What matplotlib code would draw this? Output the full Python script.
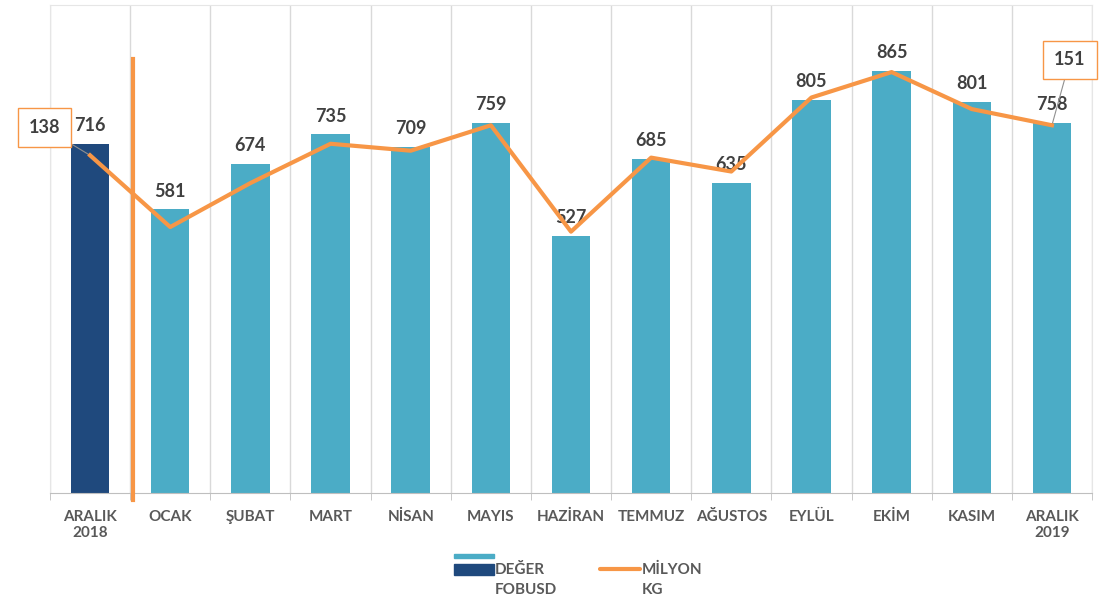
import numpy as np
import matplotlib
matplotlib.use('Agg')
import matplotlib.pyplot as plt
from matplotlib.patches import Rectangle
from matplotlib.lines import Line2D

plt.rcParams['font.family'] = ['Lato', 'DejaVu Sans']

months = ['ARALIK\n2018', 'OCAK', 'ŞUBAT', 'MART', 'NİSAN', 'MAYIS', 'HAZİRAN',
          'TEMMUZ', 'AĞUSTOS', 'EYLÜL', 'EKİM', 'KASIM', 'ARALIK\n2019']
deger = [716, 581, 674, 735, 709, 759, 527, 685, 635, 805, 865, 801, 758]
milyon_kg = [138, 107, 126, 143, 140, 151, 105, 137, 131, 163, 174, 158, 151]

light_blue = '#4BACC6'
navy = '#1F497D'
orange = '#F79646'
label_grey = '#404040'
tick_grey = '#595959'

# legend handles sit on the first text line, not the middle of the two lines
LIFT = 8


class StackedBarHandler:
    # two stacked rectangles, light on top, dark below
    def legend_artist(self, legend, orig_handle, fontsize, handlebox):
        x0, y0 = handlebox.xdescent, handlebox.ydescent + LIFT
        w, h = handlebox.width, handlebox.height
        top = Rectangle((x0, y0 + 1.5 * h), w, 0.45 * h, color=light_blue,
                        transform=handlebox.get_transform())
        bot = Rectangle((x0, y0 - 0.1 * h), w, 1.05 * h, color=navy,
                        transform=handlebox.get_transform())
        handlebox.add_artist(top)
        handlebox.add_artist(bot)
        return bot


class LiftedLineHandler:
    def legend_artist(self, legend, orig_handle, fontsize, handlebox):
        x0, y0 = handlebox.xdescent, handlebox.ydescent + LIFT
        w, h = handlebox.width, handlebox.height
        ln = Line2D([x0, x0 + w], [y0 + h / 2, y0 + h / 2], color=orange,
                    linewidth=3, solid_capstyle='round',
                    transform=handlebox.get_transform())
        handlebox.add_artist(ln)
        return ln


fig = plt.figure(figsize=(11.02, 6.02), dpi=100)
ax = fig.add_axes([50 / 1102, 109 / 602, 1042 / 1102, 488 / 602])
x = np.arange(len(months))
colors = [navy] + [light_blue] * (len(months) - 1)
ax.bar(x, deger, width=0.48, color=colors, zorder=2)

for xi, v in zip(x, deger):
    ax.annotate(str(v), (xi, v), xytext=(0, 7), textcoords='offset points',
                ha='center', va='bottom', fontsize=13, fontweight='bold',
                color=label_grey, zorder=3)

ax.set_xlim(-0.5, len(months) - 0.5)
ax.set_ylim(0, 1000)
ax.set_xticks(x)
ax.set_xticklabels(months, fontsize=11, fontweight='bold', color=tick_grey)
ax.set_xticks(np.arange(-0.5, len(months), 1), minor=True)
ax.tick_params(axis='x', which='major', length=0, pad=12)
ax.tick_params(axis='x', which='minor', length=5, color='#bfbfbf')
ax.set_yticks([])
ax.grid(which='minor', axis='x', color='#d9d9d9', linewidth=1, zorder=0)
for s in ['left', 'right', 'top']:
    ax.spines[s].set_color('#e6e6e6')
ax.spines['bottom'].set_color('#bfbfbf')

# orange separator between 2018 and 2019
ax.axvline(0.53, ymin=-0.015, ymax=0.89, color=orange, linewidth=3,
           clip_on=False, zorder=4)

ax2 = ax.twinx()
ax2.plot(x, milyon_kg, color=orange, linewidth=3, zorder=5)
ax2.set_ylim(-8, 203)
ax2.set_yticks([])
for s in ['left', 'right', 'top', 'bottom']:
    ax2.spines[s].set_visible(False)

box = dict(boxstyle='square,pad=0.6', facecolor='white', edgecolor=orange, linewidth=1)
leader = dict(arrowstyle='-', color='#909090', linewidth=0.8, shrinkA=0, shrinkB=0)
ax2.annotate(str(milyon_kg[0]), (x[0], milyon_kg[0]), xytext=(-33, 20),
             textcoords='offset points', ha='center', va='center', fontsize=13,
             fontweight='bold', color=label_grey, bbox=box, arrowprops=leader,
             annotation_clip=False)
ax2.annotate(str(milyon_kg[-1]), (x[-1], milyon_kg[-1]), xytext=(13, 47),
             textcoords='offset points', ha='center', va='center', fontsize=13,
             fontweight='bold', color=label_grey, bbox=box, arrowprops=leader,
             annotation_clip=False)

handles = [Rectangle((0, 0), 1, 1, color=navy),
           Line2D([0], [0], color=orange, linewidth=3)]
leg = fig.legend(handles, ['DEĞER\nFOBUSD', 'MİLYON\nKG'], loc='center',
                 bbox_to_anchor=(578 / 1102, 1 - 580 / 602), ncol=2, frameon=False,
                 handler_map={Rectangle: StackedBarHandler(), Line2D: LiftedLineHandler()},
                 handlelength=2.6, handletextpad=0.1, columnspacing=2.8,
                 prop={'size': 11, 'weight': 'bold'})
for t in leg.get_texts():
    t.set_color(tick_grey)
    t.set_linespacing(1.6)

fig.savefig('out.png', dpi=100)
